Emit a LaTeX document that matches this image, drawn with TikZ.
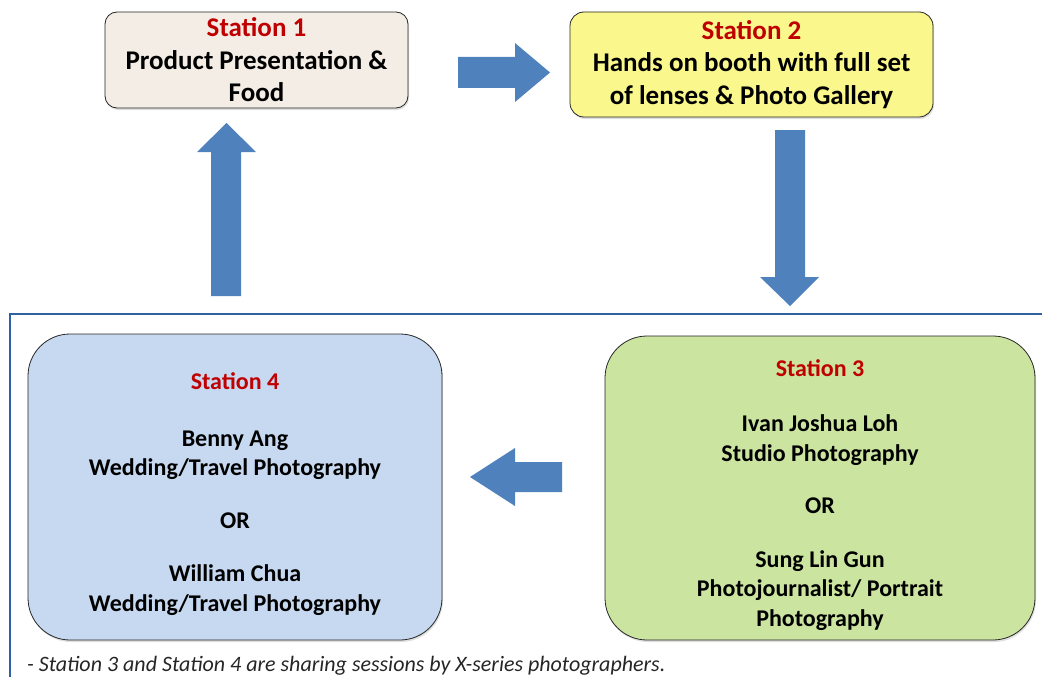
\documentclass[tikz,border=0pt]{standalone}
\usepackage{fontspec}
\setmainfont{Carlito}
\usetikzlibrary{shadows}

\definecolor{stone}{HTML}{F3EDE6}
\definecolor{lemon}{HTML}{FAF78C}
\definecolor{skyfill}{HTML}{C6D9F0}
\definecolor{leaf}{HTML}{CBE4A0}
\definecolor{arrowblue}{HTML}{4F81BD}
\definecolor{frameblue}{HTML}{2F60A3}
\definecolor{stred}{HTML}{C00000}

\begin{document}
\begin{tikzpicture}[x=1pt,y=-1pt,
	station/.style={draw=black!85, line width=0.8pt, align=center,
		font=\bfseries\fontsize{27}{32.5}\selectfont, inner sep=0pt,
		drop shadow={shadow xshift=1pt, shadow yshift=-2pt, opacity=0.25}},
	bigstation/.style={draw=black!85, line width=0.8pt, rounded corners=42pt,
		drop shadow={shadow xshift=1pt, shadow yshift=-2pt, opacity=0.25}},
	stationtext/.style={align=center, inner sep=0pt,
		font=\bfseries\fontsize{24}{29.5}\selectfont},
	blockarrow/.style={fill=arrowblue}]
	
	\useasboundingbox (0,0) rectangle (1042,677);
	
	\node[station, fill=stone, rounded corners=12pt, minimum width=303pt, minimum height=96pt] (st1) at (256.5,60)
		{\textcolor{stred}{Station 1}\\Product Presentation \&\\Food};
	\node[station, fill=lemon, rounded corners=14pt, minimum width=363pt, minimum height=105pt] (st2) at (751.5,64.5)
		{\textcolor{stred}{Station 2}\\Hands on booth with full set\\of lenses \& Photo Gallery};
	\node[bigstation, fill=leaf, minimum width=430pt, minimum height=304pt] (st3) at (820,488) {};
	\node[bigstation, fill=skyfill, minimum width=414pt, minimum height=306pt] (st4) at (235,487) {};
	
	\node[stationtext] (st3txt) at (820,495)
		{\textcolor{stred}{Station 3}\\[26pt]Ivan Joshua Loh\\Studio Photography\\[23pt]OR\\[24pt]Sung Lin Gun\\Photojournalist/ Portrait\\Photography};
	\node[stationtext] (st4txt) at (235,494)
		{\textcolor{stred}{Station 4}\\[27pt]Benny Ang\\Wedding/Travel Photography\\[23pt]OR\\[24pt]William Chua\\Wedding/Travel Photography};
	
	% block arrows
	\fill[blockarrow] (458,57) -- (515,57) -- (515,43) -- (550,72.5) -- (515,102) -- (515,88) -- (458,88) -- cycle;
	\fill[blockarrow] (775,130) -- (805,130) -- (805,277) -- (819,277) -- (790,306) -- (760,277) -- (775,277) -- cycle;
	\fill[blockarrow] (562,462) -- (515,462) -- (515,448) -- (470,477) -- (515,506) -- (515,492) -- (562,492) -- cycle;
	\fill[blockarrow] (211,296) -- (241,296) -- (241,152) -- (256,152) -- (226.5,123) -- (197,152) -- (211,152) -- cycle;
	
	\draw[frameblue, line width=2.5pt] (10,677) -- (10,314) -- (1042,314);
	
	\node[anchor=west, inner sep=0pt, font=\itshape\fontsize{22}{26}\selectfont, text=black!85] (note) at (27,666)
		{- Station 3 and Station 4 are sharing sessions by X-series photographers.};
	
\end{tikzpicture}
\end{document}
